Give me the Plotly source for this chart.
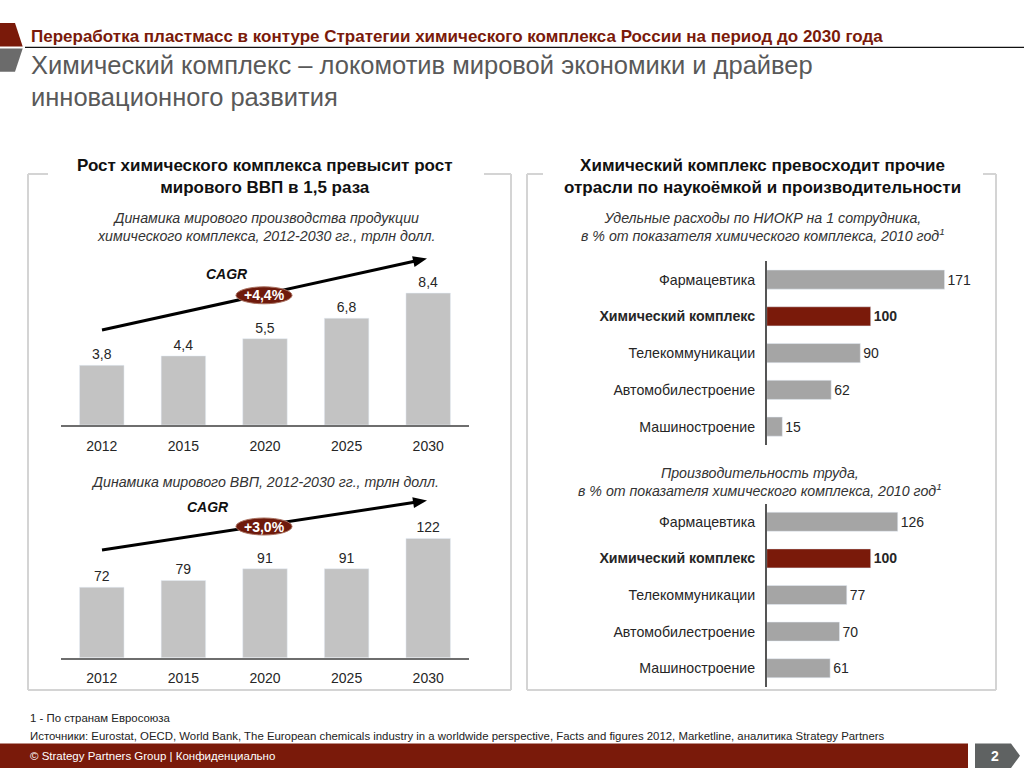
import math
import plotly.graph_objects as go

# ---------------- data ----------------
years = ["2012", "2015", "2020", "2025", "2030"]
chem_output = [3.8, 4.4, 5.5, 6.8, 8.4]          # trillion USD
world_gdp = [72, 79, 91, 91, 122]                # trillion USD
industries = ["Фармацевтика", "Химический комплекс", "Телекоммуникации",
              "Автомобилестроение", "Машиностроение"]
rnd_per_employee = [171, 100, 90, 62, 15]        # % of chemical complex
labor_productivity = [126, 100, 77, 70, 61]      # % of chemical complex
highlight = "Химический комплекс"
cagr_chem = "+4,4%"
cagr_gdp = "+3,0%"

# ---------------- helpers ----------------
W, H = 1024, 768
def X(px): return px / W
def Y(py): return 1 - py / H

RED = "#7A1A0A"
BAR_V = "#C3C3C3"
BAR_H = "#A5A5A5"
TXT = "#262626"
FONT = "Liberation Sans, Arial, sans-serif"
NARROW = "Liberation Sans Narrow, Arial Narrow, Liberation Sans, sans-serif"

fig = go.Figure()

# vertical bar charts
fig.add_trace(go.Bar(x=years, y=chem_output, marker_color=BAR_V, width=0.545,
                     texttemplate="%{y:.1f}", textposition="outside", cliponaxis=False,
                     textfont=dict(size=14, color=TXT, family=FONT),
                     xaxis="x", yaxis="y", hoverinfo="skip"))
fig.add_trace(go.Bar(x=years, y=world_gdp, marker_color=BAR_V, width=0.545,
                     texttemplate="%{y:.0f}", textposition="outside", cliponaxis=False,
                     textfont=dict(size=14, color=TXT, family=FONT),
                     xaxis="x2", yaxis="y2", hoverinfo="skip"))

# horizontal bar charts
def hcolors(cats):
    return [RED if c == highlight else BAR_H for c in cats]
def htext(cats, vals):
    return [f"<b>{v}</b>" if c == highlight else str(v) for c, v in zip(cats, vals)]

fig.add_trace(go.Bar(y=industries, x=rnd_per_employee, orientation="h",
                     marker_color=hcolors(industries), width=0.52,
                     text=htext(industries, rnd_per_employee), textposition="outside",
                     cliponaxis=False, textfont=dict(size=14, color=TXT, family=FONT),
                     xaxis="x3", yaxis="y3", hoverinfo="skip"))
fig.add_trace(go.Bar(y=industries, x=labor_productivity, orientation="h",
                     marker_color=hcolors(industries), width=0.52,
                     text=htext(industries, labor_productivity), textposition="outside",
                     cliponaxis=False, textfont=dict(size=14, color=TXT, family=FONT),
                     xaxis="x4", yaxis="y4", hoverinfo="skip"))

tickfont = dict(size=14, color=TXT, family=FONT)
htickfont = dict(size=14.2, color=TXT, family=FONT)
ticktext_h = [f"<b>{c}</b>" if c == highlight else c for c in industries]

layout = dict(
    width=W, height=H, margin=dict(l=0, r=0, t=0, b=0),
    paper_bgcolor="white", plot_bgcolor="rgba(0,0,0,0)",
    showlegend=False, separators=", ",
    font=dict(family=FONT, color=TXT),
    xaxis=dict(domain=[X(61), X(469)], anchor="y", type="category",
               range=[-0.5, 4.5], showline=True, linecolor="#6E6E6E", linewidth=1.5,
               showgrid=False, ticks="", tickfont=tickfont, ticklabelstandoff=7),
    yaxis=dict(domain=[Y(425), Y(268)], anchor="x", range=[0, 10],
               visible=False, showgrid=False),
    xaxis2=dict(domain=[X(61), X(469)], anchor="y2", type="category",
                range=[-0.5, 4.5], showline=True, linecolor="#6E6E6E", linewidth=1.5,
                showgrid=False, ticks="", tickfont=tickfont, ticklabelstandoff=7),
    yaxis2=dict(domain=[Y(657.7), Y(520.8)], anchor="x2", range=[0, 140],
                visible=False, showgrid=False),
    xaxis3=dict(domain=[X(766.7), X(974.7)], anchor="y3", range=[0, 200],
                visible=False, showgrid=False),
    yaxis3=dict(domain=[Y(445), Y(261.2)], anchor="x3", type="category",
                autorange="reversed", showline=True, linecolor="#555", linewidth=1.5,
                showgrid=False, ticks="", tickvals=industries, ticktext=ticktext_h,
                tickfont=htickfont, ticklabelstandoff=7),
    xaxis4=dict(domain=[X(766.7), X(974.7)], anchor="y4", range=[0, 200],
                visible=False, showgrid=False),
    yaxis4=dict(domain=[Y(686.5), Y(503.5)], anchor="x4", type="category",
                autorange="reversed", showline=True, linecolor="#555", linewidth=1.5,
                showgrid=False, ticks="", tickvals=industries, ticktext=ticktext_h,
                tickfont=htickfont, ticklabelstandoff=7),
)
fig.update_layout(**layout)

shapes = []
def line(x0, y0, x1, y1, color="#D4D4D4", width=2):
    shapes.append(dict(type="line", xref="paper", yref="paper",
                       x0=X(x0), y0=Y(y0), x1=X(x1), y1=Y(y1),
                       line=dict(color=color, width=width)))
def path(pts, color):
    d = "M " + " L ".join(f"{X(a)},{Y(b)}" for a, b in pts) + " Z"
    shapes.append(dict(type="path", xref="paper", yref="paper", path=d,
                       fillcolor=color, line=dict(width=0)))

# header decorations
path([(0, 23), (15, 23), (22.7, 46.5), (0, 46.5)], RED)
path([(0, 48.5), (22.7, 48.5), (15, 71.7), (0, 71.7)], "#6B6B6B")
line(25, 47.3, 1024, 47.3, color="#111111", width=1.2)

# panel boxes (top border broken by the titles)
for (l, r, tl, tr) in [(28, 511, 48, 484), (527, 996, 543, 983)]:
    line(l, 174, l, 690)
    line(r, 174, r, 690)
    line(l, 690, r, 690)
    line(l, 174, tl, 174)
    line(tr, 174, r, 174)

# CAGR trend arrows (line + filled head), drawn below the ovals
for (x0, y0, x1, y1) in [(102, 330, 427, 258.5), (102, 550, 427, 500.5)]:
    ang = math.atan2(y1 - y0, x1 - x0)
    L, hw = 14, 5.5
    bx, by = x1 - L * math.cos(ang), y1 - L * math.sin(ang)
    line(x0, y0, bx + 2 * math.cos(ang), by + 2 * math.sin(ang), color="#000", width=3)
    px_, py_ = -math.sin(ang), math.cos(ang)
    path([(x1, y1), (bx + hw * px_, by + hw * py_), (bx - hw * px_, by - hw * py_)], "#000")

# CAGR ovals
for (cx, cy) in [(264, 295.3), (264, 526.5)]:
    shapes.append(dict(type="circle", xref="paper", yref="paper",
                       x0=X(cx - 28), x1=X(cx + 28), y0=Y(cy + 8.5), y1=Y(cy - 8.5),
                       fillcolor="#6E1A0C", line=dict(color="#A8705F", width=1)))

# footer band and page tag
shapes.append(dict(type="rect", xref="paper", yref="paper",
                   x0=0, x1=X(968), y0=0, y1=Y(743.5), fillcolor=RED, line=dict(width=0)))
path([(975, 743.5), (1011, 743.5), (1020, 755.7), (1011, 768), (975, 768)], "#5F6262")

fig.update_layout(shapes=shapes)

ann = []
def text(x, y, s, size=13, color=TXT, family=FONT, xanchor="center", yanchor="middle", **kw):
    ann.append(dict(x=X(x), y=Y(y), xref="paper", yref="paper", text=s, showarrow=False,
                    font=dict(size=size, color=color, family=family),
                    xanchor=xanchor, yanchor=yanchor, **kw))

# header texts
text(29, 36.5, "<b>Переработка пластмасс в контуре Стратегии химического комплекса России на период до 2030 года</b>",
     size=17, color=RED, family=NARROW, xanchor="left")
text(29, 65, "Химический комплекс – локомотив мировой экономики и драйвер",
     size=25.5, color="#595959", family=NARROW, xanchor="left")
text(29, 97, "инновационного развития", size=25.5, color="#595959", family=NARROW, xanchor="left")

# panel titles
text(265, 176.5, "<b>Рост химического комплекса превысит рост<br>мирового ВВП в 1,5 раза</b>",
     size=17, color="#111", bgcolor="white")
text(762, 176.5, "<b>Химический комплекс превосходит прочие<br>отрасли по наукоёмкой и производительности</b>",
     size=17, color="#111", bgcolor="white")

# chart subtitles
text(265.5, 227, "<i>Динамика мирового производства продукции<br>химического комплекса, 2012-2030 гг., трлн долл.</i>",
     size=14.2, color="#333")
text(265, 481.5, "<i>Динамика мирового ВВП, 2012-2030 гг., трлн долл.</i>", size=14.2, color="#333")
text(763, 227, "<i>Удельные расходы по НИОКР на 1 сотрудника,<br>в % от показателя химического комплекса, 2010 год<sup>1</sup></i>",
     size=14.2, color="#333")
text(760, 482, "<i>Производительность труда,<br>в % от показателя химического комплекса, 2010 год<sup>1</sup></i>",
     size=14.2, color="#333")

# CAGR labels
text(227, 274, "<b><i>CAGR</i></b>", size=14, color="#111")
text(208, 507, "<b><i>CAGR</i></b>", size=14, color="#111")
text(264, 295.3, f"<b>{cagr_chem}</b>", size=14, color="white")
text(264, 526.5, f"<b>{cagr_gdp}</b>", size=14, color="white")

# footnotes and footer
text(28, 718, "1 - По странам Евросоюза", size=11.4, color="#222", family=NARROW, xanchor="left")
text(28, 736, "Источники: Eurostat, OECD, World Bank, The European chemicals industry in a worldwide perspective, "
     "Facts and figures 2012, Marketline, аналитика Strategy Partners",
     size=11.4, color="#222", family=NARROW, xanchor="left")
text(28, 756, "© Strategy Partners Group | Конфиденциально", size=11.5, color="white",
     family=NARROW, xanchor="left")
text(995, 756, "<b>2</b>", size=14, color="white")

fig.update_layout(annotations=ann)

fig.write_html("out.html", config={"displayModeBar": False},
               post_script="document.body.style.margin='0';document.body.style.overflow='hidden';")
